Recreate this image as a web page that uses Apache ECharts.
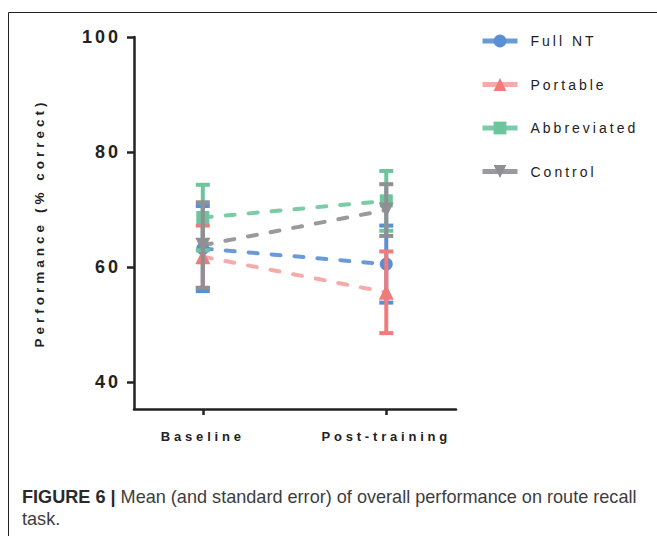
<!DOCTYPE html>
<html><head><meta charset="utf-8">
<script src="https://cdn.jsdelivr.net/npm/echarts@6/dist/echarts.min.js"></script>
<style>
html,body{margin:0;padding:0;background:#fff;}
#chart{width:657px;height:536px;}
#chart text[style*="18px"]{letter-spacing:3px;}
#chart text[style*="13px"]{letter-spacing:3.8px;}
#chart text[style*="13.5px"]{letter-spacing:4px;}
#chart text[style*="14px"]{letter-spacing:3px;}
</style></head><body><div id="chart"></div>
<script>
// ---- data ----
const categories = ['Baseline', 'Post-training'];
const groupNames = ['Full NT', 'Portable', 'Abbreviated', 'Control'];
const fullNTMean = [63.2, 60.5];
const fullNTSE = [7.4, 6.7];
const portableMean = [61.8, 55.6];
const portableSE = [5.4, 7.1];
const abbreviatedMean = [68.6, 71.5];
const abbreviatedSE = [5.7, 5.2];
const controlMean = [63.8, 69.9];
const controlSE = [7.45, 4.5];
const yTicks = [40, 60, 80, 100];
const captionBold = 'FIGURE 6 |';
const captionText = 'Mean (and standard error) of overall performance on route recall';
const captionLine2 = 'task.';

const means = [fullNTMean, portableMean, abbreviatedMean, controlMean];
const ses = [fullNTSE, portableSE, abbreviatedSE, controlSE];
const markerColors = ['#5b8fd5', '#f07b7b', '#6cc59c', '#8f8f94'];
const lineColors = ['#5b8fd5', '#f5a2a2', '#6cc59c', '#8f8f94'];
const symbols = ['circle', 'triangle', 'rect', 'triangle'];
const symbolRot = [0, 0, 0, 180];
const symbolSizes = [13, 15, 13, 15];
const FONT = '"Liberation Sans", Arial, sans-serif';

function errRender(color) {
  return function (params, api) {
    const x = api.value(0), lo = api.value(1), hi = api.value(2);
    const pLo = api.coord([x, lo]);
    const pHi = api.coord([x, hi]);
    const hw = 7;
    const st = { stroke: color, lineWidth: 4 };
    return {
      type: 'group',
      children: [
        { type: 'line', shape: { x1: pLo[0], y1: pLo[1], x2: pHi[0], y2: pHi[1] }, style: st },
        { type: 'line', shape: { x1: pLo[0] - hw, y1: pLo[1], x2: pLo[0] + hw, y2: pLo[1] }, style: st },
        { type: 'line', shape: { x1: pHi[0] - hw, y1: pHi[1], x2: pHi[0] + hw, y2: pHi[1] }, style: st }
      ]
    };
  };
}

const series = [];
groupNames.forEach(function (g, i) {
  series.push({
    name: g,
    type: 'line',
    data: means[i].map(function (v, j) { return [j, v]; }),
    symbol: symbols[i],
    symbolSize: symbolSizes[i],
    symbolRotate: symbolRot[i],
    itemStyle: { color: markerColors[i], opacity: 1 },
    lineStyle: { color: lineColors[i], width: 4, type: [9, 14], cap: 'round', opacity: 0.9 },
    z: 10 + 2 * i,
    silent: true
  });
  series.push({
    type: 'custom',
    renderItem: errRender(markerColors[i]),
    data: means[i].map(function (v, j) { return [j, v - ses[i][j], v + ses[i][j]]; }),
    encode: { x: 0, y: [1, 2] },
    z: 11 + 2 * i,
    silent: true
  });
});

const chart = echarts.init(document.getElementById('chart'), null, { renderer: 'svg' });
chart.setOption({
  animation: false,
  backgroundColor: '#fff',
  grid: { left: 134, right: 201, top: 37, bottom: 127 },
  xAxis: {
    type: 'value',
    min: -0.375,
    max: 1.38,
    splitLine: { show: false },
    axisLine: { show: true, onZero: false, lineStyle: { color: '#222', width: 2.5 } },
    axisTick: { show: true, customValues: [0, 1], length: 6, lineStyle: { color: '#222', width: 2.5 } },
    axisLabel: {
      customValues: [0, 1],
      formatter: function (v) { return categories[Math.round(v)]; },
      margin: 21,
      fontSize: 13,
      fontWeight: 'bold',
      fontFamily: FONT,
      color: '#222'
    }
  },
  yAxis: {
    type: 'value',
    min: 35.3,
    max: 100,
    name: 'Performance (% correct)',
    nameLocation: 'middle',
    nameRotate: 90,
    nameGap: 88,
    nameTextStyle: { fontSize: 13.5, fontWeight: 'bold', fontFamily: FONT, color: '#222' },
    splitLine: { show: false },
    axisLine: { show: true, onZero: false, lineStyle: { color: '#222', width: 2.5 } },
    axisTick: { show: true, customValues: yTicks, length: 7, lineStyle: { color: '#222', width: 2.5 } },
    axisLabel: {
      customValues: yTicks,
      margin: 13,
      fontSize: 18,
      fontWeight: 'bold',
      fontFamily: FONT,
      color: '#222'
    }
  },
  legend: {
    data: groupNames,
    orient: 'vertical',
    left: 475,
    top: 29,
    itemWidth: 35,
    itemHeight: 16,
    itemGap: 29.5,
    lineStyle: { type: 'solid', width: 5, cap: 'butt' },
    textStyle: { fontSize: 14, fontFamily: FONT, color: '#222', padding: [0, 0, 0, 8] },
    selectedMode: false
  },
  graphic: [
    {
      type: 'polyline',
      shape: { points: [[8.5, 536], [8.5, 12.5], [657, 12.5]] },
      style: { stroke: '#222', lineWidth: 1, fill: null },
      silent: true
    },
    {
      type: 'text',
      left: 22,
      top: 486,
      style: {
        text: '{b|' + captionBold + '} ' + captionText + '\n' + captionLine2,
        fontSize: 18.1,
        fontFamily: FONT,
        fill: '#3d3d3d',
        lineHeight: 22,
        rich: {
          b: { fontSize: 18.1, fontWeight: 'bold', fontFamily: FONT, fill: '#2a2a2a', lineHeight: 22 }
        }
      },
      silent: true
    }
  ],
  series: series
});
</script>
</body></html>
